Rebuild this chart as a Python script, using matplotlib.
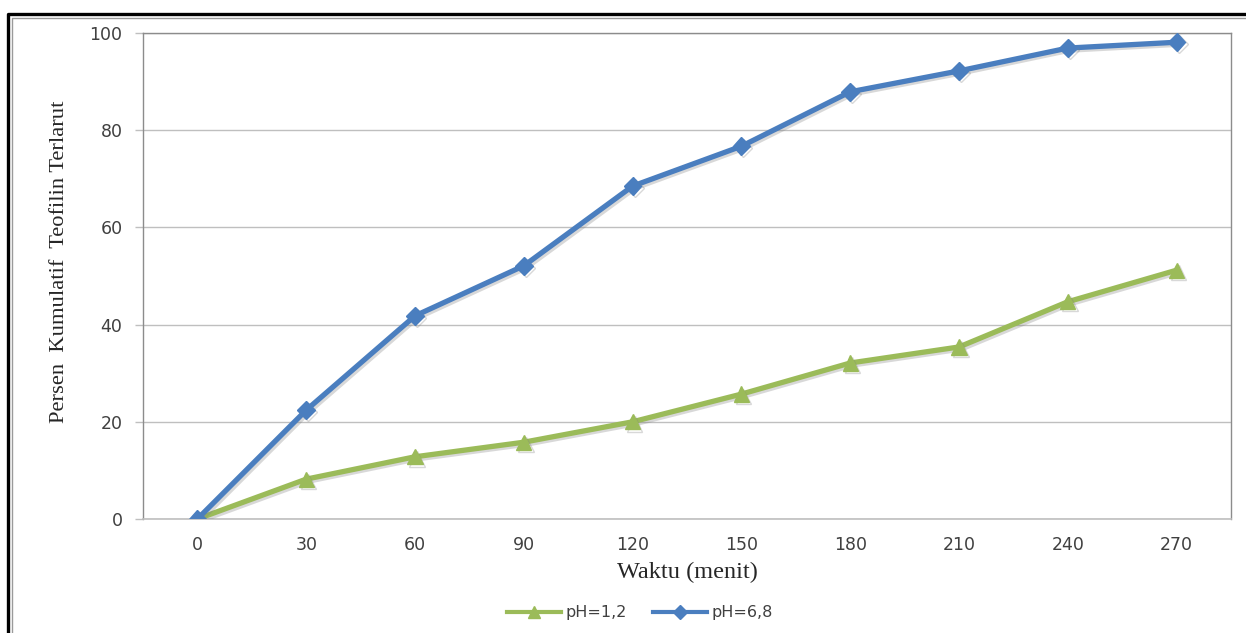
import matplotlib
matplotlib.use('Agg')
import matplotlib.pyplot as plt
import matplotlib.patheffects as pe
from matplotlib.lines import Line2D
import numpy as np

# Dissolution data: cumulative percent theophylline dissolved
waktu = [0, 30, 60, 90, 120, 150, 180, 210, 240, 270]
ph_12 = [0, 8.2, 12.8, 15.8, 20.0, 25.7, 32.1, 35.4, 44.7, 51.2]
ph_68 = [0, 22.4, 41.8, 52.1, 68.5, 76.7, 87.9, 92.2, 96.9, 98.1]

GREEN = '#9BBB59'
BLUE = '#4A7EBF'
GRID = '#BFBFBF'
TEXT = '#404040'

plt.rcParams['font.family'] = 'DejaVu Sans'

W, H = 1246, 633
fig = plt.figure(figsize=(W / 100, H / 100), dpi=100)
fig.patch.set_facecolor('white')

# outer chart frame: thick black line with a thin gray line inside
fig.add_artist(plt.Line2D([8 / W, 8 / W, 1.0], [0.0, 1 - 14 / H, 1 - 14 / H],
                          transform=fig.transFigure, color='black', lw=2.4))
fig.add_artist(plt.Line2D([11.5 / W, 11.5 / W, 1.0], [0.0, 1 - 17.5 / H, 1 - 17.5 / H],
                          transform=fig.transFigure, color='#9A9A9A', lw=1.0))

left, right, top, bottom = 143, 1231, 33, 519
ax = fig.add_axes([left / W, 1 - bottom / H, (right - left) / W, (bottom - top) / H])

x = np.arange(len(waktu))
shadow = [pe.SimpleLineShadow(offset=(1.5, -1.5), shadow_color='gray', alpha=0.3), pe.Normal()]

ax.plot(x, ph_12, color=GREEN, lw=3.8, marker='^', ms=11, mec=GREEN, mfc=GREEN,
        path_effects=shadow, zorder=3, solid_joinstyle='round')
ax.plot(x, ph_68, color=BLUE, lw=3.8, marker='D', ms=9, mec=BLUE, mfc=BLUE,
        path_effects=shadow, zorder=4, solid_joinstyle='round')

ax.set_xlim(-0.5, len(waktu) - 0.5)
ax.set_ylim(0, 100)
ax.set_xticks(x)
ax.set_xticklabels([str(w) for w in waktu])
ax.set_yticks([0, 20, 40, 60, 80, 100])
ax.grid(True, axis='y', color=GRID, lw=1.0)
ax.set_axisbelow(True)

for side in ['left', 'top', 'right']:
    ax.spines[side].set_color('#8C8C8C')
    ax.spines[side].set_linewidth(1.0)
ax.spines['bottom'].set_color(GRID)
ax.spines['bottom'].set_linewidth(1.2)

ax.tick_params(axis='x', length=0, pad=12, labelsize=12.5, colors=TEXT)
ax.tick_params(axis='y', length=5.8, width=1, color=GRID, pad=9, labelsize=12.5, colors=TEXT)

ax.set_xlabel('Waktu (menit)', family='Liberation Serif', fontsize=17.5, color='#262626', labelpad=6)
fig.text(60 / W, 1 - 262 / H, 'Persen  Kumulatif  Teofilin Terlarut', family='Liberation Serif',
         fontsize=16.2, color='#262626', rotation=90, ha='center', va='center')

handles = [Line2D([0], [0], color=GREEN, lw=3, marker='^', ms=9, mfc=GREEN, mec=GREEN),
           Line2D([0], [0], color=BLUE, lw=3, marker='D', ms=7, mfc=BLUE, mec=BLUE)]
fig.legend(handles, ['pH=1,2', 'pH=6,8'], loc='center', bbox_to_anchor=(640 / W, 1 - 613 / H),
           ncol=2, frameon=False, fontsize=11.5, handlelength=3.4, columnspacing=1.6,
           handletextpad=0.3, labelcolor=TEXT)

fig.savefig('out.png', dpi=100, facecolor='white')
